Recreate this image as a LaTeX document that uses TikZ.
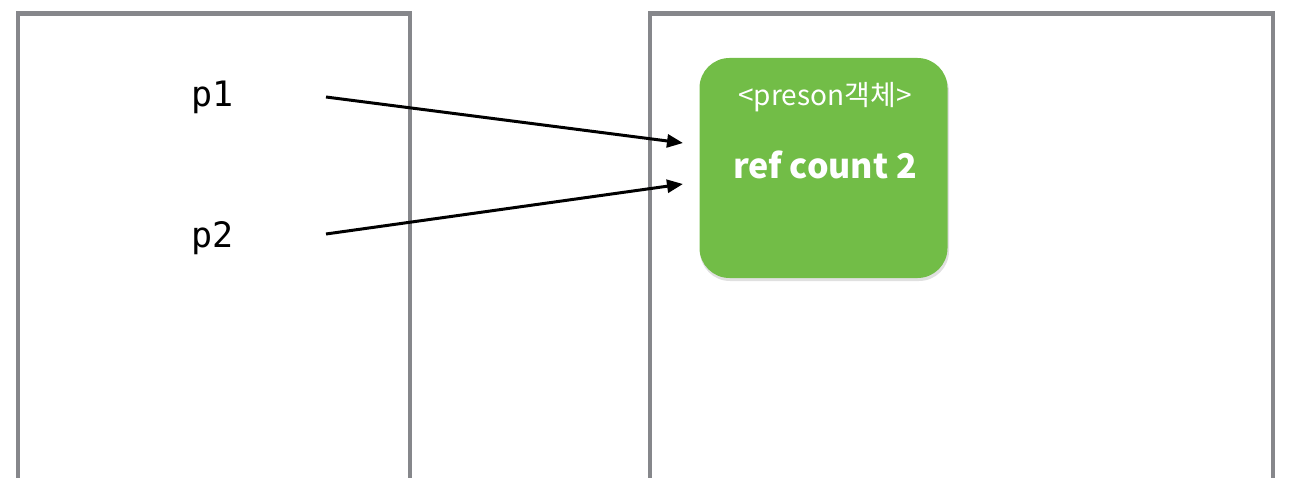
\documentclass[tikz,border=0pt]{standalone}
\usepackage{fontspec}
\newfontfamily\kr{Noto Sans CJK KR}
\newfontfamily\mono{DejaVu Sans Mono}
\usetikzlibrary{arrows.meta}
\definecolor{framegray}{RGB}{134,135,139}
\definecolor{objgreen}{RGB}{114,189,71}
\tikzset{
  frame/.style={draw=framegray, line width=4.5pt},
  varlabel/.style={font=\mono\fontsize{35}{40}\selectfont, inner sep=0pt},
  ptr/.style={line width=3pt, -{Triangle[length=16pt,width=13pt]}},
  objbox/.style={fill=objgreen, rounded corners=30pt, minimum width=248pt, minimum height=220pt, inner sep=0pt},
}
\begin{document}
\begin{tikzpicture}[x=1pt,y=-1pt]
\useasboundingbox (0,0) rectangle (1300,478);
% frames
\draw[frame] (18,480) -- (18,13.5) -- (410,13.5) -- (410,480);
\draw[frame] (650,480) -- (650,13.5) -- (1273,13.5) -- (1273,480);
% shadow
\fill[black, opacity=0.12, rounded corners=30pt] (700,62) rectangle (949,281);
\node[objbox] (obj) at (823.5,168) {};
\node[font=\kr\fontsize{28}{32}\selectfont, text=white, inner sep=0pt] (objtitle) at (825,97) {<preson객체>};
\node[font=\kr\bfseries\fontsize{34}{40}\selectfont, text=white, inner sep=0pt] (objcount) at (825,165) {ref count 2};
% variables
\node[varlabel] (p1) at (212.5,97) {p1};
\node[varlabel] (p2) at (212.5,238) {p2};
\coordinate (s1) at (326,97);
\coordinate (e1) at (683,143);
\coordinate (s2) at (326,234);
\coordinate (e2) at (683,184);
\draw[ptr] (s1) -- (e1);
\draw[ptr] (s2) -- (e2);
\end{tikzpicture}
\end{document}
